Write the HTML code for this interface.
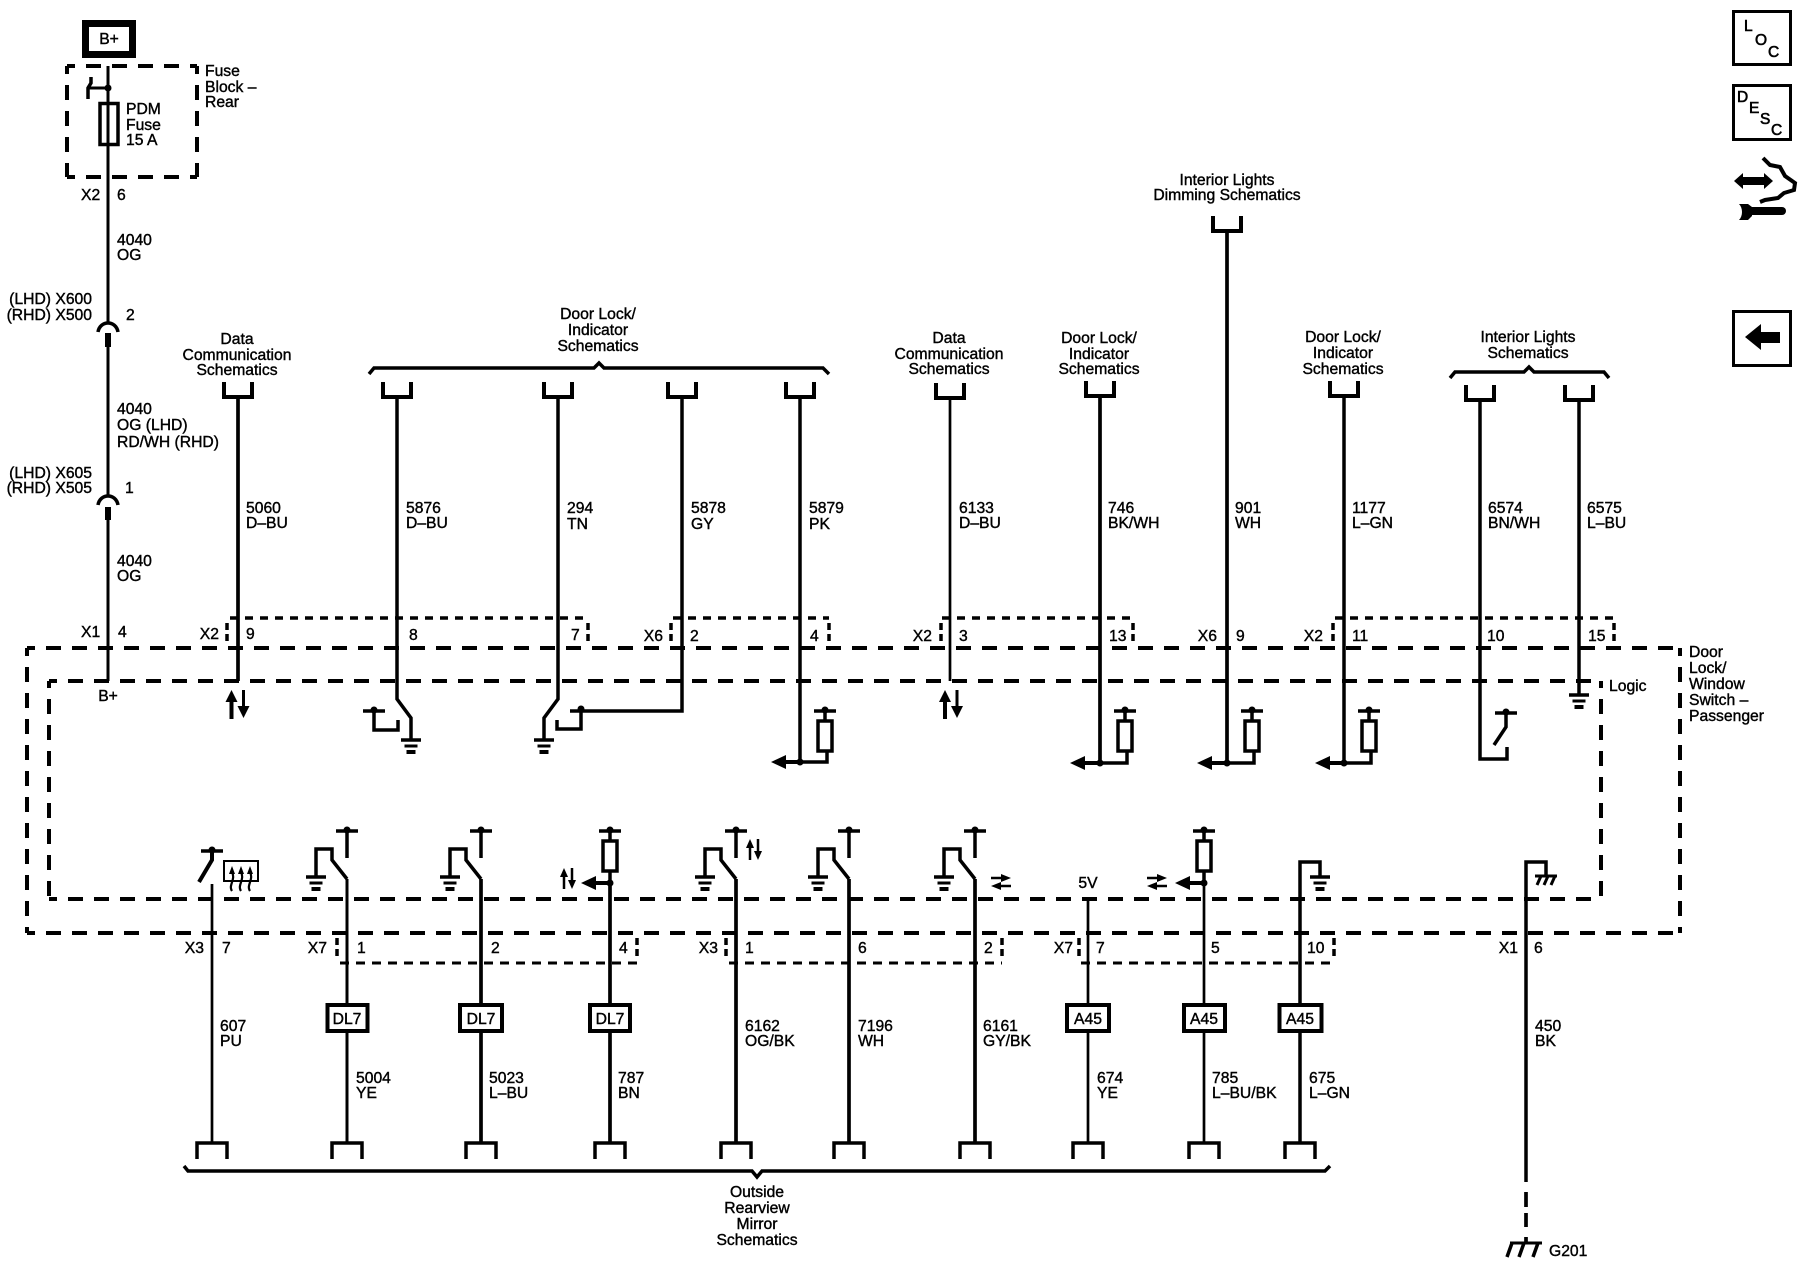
<!DOCTYPE html>
<html><head><meta charset="utf-8"><style>
html,body{margin:0;padding:0;background:#fff}
svg{display:block}
text{font-family:"Liberation Sans",Arial,sans-serif;font-size:15.7px;fill:#000;stroke:#000;stroke-width:.4}
.m{text-anchor:middle}.e{text-anchor:end}
.l{fill:none;stroke:#000;stroke-width:3.5}
.d{fill:none;stroke:#000;stroke-width:4;stroke-dasharray:15 11}
.s{fill:none;stroke:#000;stroke-width:3.5;stroke-dasharray:8 7}
.b{fill:none;stroke:#000;stroke-width:3;stroke-dasharray:9 7}
.v{fill:none;stroke:#000;stroke-width:3.5;stroke-dasharray:7 4}
.i{font-size:15.5px;stroke-width:.6}
</style></head><body>
<svg width="1800" height="1280" viewBox="0 0 1800 1280" xmlns="http://www.w3.org/2000/svg">
<defs>
<g id="gnd"><path d="M-10,0H10" stroke="#000" stroke-width="3.5"/><path d="M-6.500,6H6.500" stroke="#000" stroke-width="3"/><path d="M-4.500,12H4.500" stroke="#000" stroke-width="4"/></g>
<g id="tee"><path d="M-11,0H11" stroke="#000" stroke-width="3.500"/><circle cx="0" cy="-1" r="3.500" fill="#000"/></g>
<g id="sw"><path d="M0,879L-15,860V849H-31V876" class="l"/><use href="#gnd" x="-31" y="877"/><use href="#tee" y="831"/><path d="M0,831V858" class="l"/></g>
<g id="u"><path d="M-14,0V15H14V0" fill="none" stroke="#000" stroke-width="4"/></g>
<g id="n"><path d="M-15,16V0H15V16" fill="none" stroke="#000" stroke-width="3.500"/></g>
<g id="res"><use href="#tee" y="711"/><path d="M0,711V721" class="l"/><rect x="-7" y="721" width="14" height="30" fill="#fff" stroke="#000" stroke-width="3.500"/></g>
<g id="larr"><path d="M0,0L15,-7V7Z" fill="#000"/><path d="M14,0H30" stroke="#000" stroke-width="4"/></g>
<g id="ud"><path d="M0,29V8" stroke="#000" stroke-width="4"/><path d="M0,0L6,12H-6Z" fill="#000"/><path d="M12,0V20" stroke="#000" stroke-width="3"/><path d="M12,28L6,16H18Z" fill="#000"/></g>
<g id="uds"><path d="M0,21V6" stroke="#000" stroke-width="2.500"/><path d="M0,0L4,9H-4Z" fill="#000"/><path d="M8,0V14" stroke="#000" stroke-width="2.500"/><path d="M8,21L4,12H12Z" fill="#000"/></g>
<g id="lr"><path d="M0,0H14" stroke="#000" stroke-width="2.500"/><path d="M20,0L10,-4V4Z" fill="#000"/><path d="M6,8H20" stroke="#000" stroke-width="2.500"/><path d="M0,8L10,4V12Z" fill="#000"/></g>
</defs>

<!-- Fuse block -->
<rect x="85.500" y="23.500" width="47" height="31" fill="#fff" stroke="#000" stroke-width="7"/>
<text x="109" y="44" class="m">B+</text>
<path d="M67,66H197M67,177H197M67,66V177M197,66V177" class="d" stroke-dashoffset="7"/>
<path d="M108,66V323" stroke="#000" stroke-width="3"/>
<path d="M108,88H88" stroke="#000" stroke-width="3"/><path d="M91,77V83L88,88V99" class="l"/>
<circle cx="108" cy="88" r="3.500" fill="#000"/>
<rect x="100" y="103.500" width="18" height="41" fill="none" stroke="#000" stroke-width="3.500"/>
<text x="126" y="114">PDM</text><text x="126" y="130">Fuse</text><text x="126" y="145">15 A</text>
<text x="205" y="76">Fuse</text><text x="205" y="92">Block –</text><text x="205" y="107">Rear</text>
<text x="81" y="200">X2</text><text x="117" y="200">6</text>
<text x="117" y="245">4040</text><text x="117" y="260">OG</text>
<text x="92" y="304" class="e">(LHD) X600</text><text x="92" y="320" class="e">(RHD) X500</text><text x="126" y="320">2</text>
<path d="M98,332C100,320 116,320 118,332" class="l"/>
<path d="M108,333V347" stroke="#000" stroke-width="6"/><path d="M108,347V495" stroke="#000" stroke-width="3"/>
<text x="117" y="414">4040</text><text x="117" y="430">OG (LHD)</text><text x="117" y="447">RD/WH (RHD)</text>
<text x="92" y="478" class="e">(LHD) X605</text><text x="92" y="493" class="e">(RHD) X505</text><text x="125" y="493">1</text>
<path d="M98,505C100,493 116,493 118,505" class="l"/>
<path d="M108,507V520" stroke="#000" stroke-width="6"/><path d="M108,520V681" stroke="#000" stroke-width="3"/>
<text x="117" y="566">4040</text><text x="117" y="581">OG</text>

<!-- Top headings -->
<text x="237" y="344" class="m">Data</text><text x="237" y="360" class="m">Communication</text><text x="237" y="375" class="m">Schematics</text>
<text x="598" y="319" class="m">Door Lock/</text><text x="598" y="335" class="m">Indicator</text><text x="598" y="351" class="m">Schematics</text>
<text x="949" y="343" class="m">Data</text><text x="949" y="359" class="m">Communication</text><text x="949" y="374" class="m">Schematics</text>
<text x="1099" y="343" class="m">Door Lock/</text><text x="1099" y="359" class="m">Indicator</text><text x="1099" y="374" class="m">Schematics</text>
<text x="1227" y="185" class="m">Interior Lights</text><text x="1227" y="200" class="m">Dimming Schematics</text>
<text x="1343" y="342" class="m">Door Lock/</text><text x="1343" y="358" class="m">Indicator</text><text x="1343" y="374" class="m">Schematics</text>
<text x="1528" y="342" class="m">Interior Lights</text><text x="1528" y="358" class="m">Schematics</text>
<path d="M369,374L374,368H594L599,363L604,368H823L829,374" class="l"/>
<path d="M1450,378L1455,372H1524L1529,367L1534,372H1604L1609,378" class="l"/>
<use href="#u" x="238" y="382"/><use href="#u" x="397" y="382"/><use href="#u" x="558" y="382"/><use href="#u" x="682" y="382"/><use href="#u" x="800" y="382"/><use href="#u" x="950" y="383"/><use href="#u" x="1100" y="381"/><use href="#u" x="1227" y="216"/><use href="#u" x="1344" y="381"/><use href="#u" x="1480" y="385"/><use href="#u" x="1579" y="385"/>

<!-- Upper wires -->
<path d="M238,397V681" stroke="#000" stroke-width="3.700"/>
<path d="M397,397V699L411,718V740" class="l"/>
<path d="M558,397V699L544,718V740" class="l"/>
<path d="M682,397V711H570" class="l"/>
<path d="M800,397V762" stroke="#000" stroke-width="3.500"/>
<path d="M950,397V681" stroke="#000" stroke-width="2.700"/>
<path d="M1100,397V763" stroke="#000" stroke-width="3.700"/>
<path d="M1227,231V763" stroke="#000" stroke-width="3.700"/>
<path d="M1344,397V763" stroke="#000" stroke-width="3.500"/>
<path d="M1480,400V759H1507V747" class="l"/>
<path d="M1579,400V695" stroke="#000" stroke-width="3.500"/>
<text x="246" y="513">5060</text><text x="246" y="528">D–BU</text>
<text x="406" y="513">5876</text><text x="406" y="528">D–BU</text>
<text x="567" y="513">294</text><text x="567" y="529">TN</text>
<text x="691" y="513">5878</text><text x="691" y="529">GY</text>
<text x="809" y="513">5879</text><text x="809" y="529">PK</text>
<text x="959" y="513">6133</text><text x="959" y="528">D–BU</text>
<text x="1108" y="513">746</text><text x="1108" y="528">BK/WH</text>
<text x="1235" y="513">901</text><text x="1235" y="528">WH</text>
<text x="1352" y="513">1177</text><text x="1352" y="528">L–GN</text>
<text x="1488" y="513">6574</text><text x="1488" y="528">BN/WH</text>
<text x="1587" y="513">6575</text><text x="1587" y="528">L–BU</text>

<!-- Pin connector dashes top -->
<path d="M230,618H588" class="s"/><path d="M227,623V643M588,623V643" class="v"/>
<path d="M673,618H829" class="s"/><path d="M671,623V643M829,623V643" class="v"/>
<path d="M942,618H1133" class="s"/><path d="M941,623V643M1133,623V643" class="v"/>
<path d="M1335,618H1614" class="s"/><path d="M1333,623V643M1614,623V643" class="v"/>
<text x="81" y="637">X1</text><text x="118" y="637">4</text><text x="219" y="639" class="e">X2</text><text x="246" y="639">9</text><text x="409" y="640">8</text><text x="571" y="640">7</text><text x="663" y="641" class="e">X6</text><text x="690" y="641">2</text><text x="810" y="641">4</text><text x="932" y="641" class="e">X2</text><text x="959" y="641">3</text><text x="1109" y="641">13</text><text x="1217" y="641" class="e">X6</text><text x="1236" y="641">9</text><text x="1323" y="641" class="e">X2</text><text x="1352" y="641">11</text><text x="1487" y="641">10</text><text x="1588" y="641">15</text>

<!-- Enclosures -->
<path d="M27,648H1680" class="d" stroke-dashoffset="7"/>
<path d="M27,933H1680" class="d" stroke-dashoffset="7"/>
<path d="M27,648V933" class="d" stroke-dashoffset="7"/>
<path d="M1680,648V933" class="d" stroke-dashoffset="7"/>
<path d="M49,681H1601" class="d" stroke-dashoffset="7"/>
<path d="M49,899H1601" class="d" stroke-dashoffset="7"/>
<path d="M49,681V899" class="d" stroke-dashoffset="8"/>
<path d="M1601,681V899" class="d" stroke-dashoffset="8"/>
<text x="1609" y="691">Logic</text>
<text x="1689" y="657">Door</text><text x="1689" y="673">Lock/</text><text x="1689" y="689">Window</text><text x="1689" y="705">Switch –</text><text x="1689" y="721">Passenger</text>
<text x="108" y="701" class="m">B+</text>

<!-- Upper symbols -->
<use href="#ud" x="231.500" y="690"/><use href="#ud" x="945" y="690"/>
<use href="#tee" x="374" y="711"/><path d="M374,711V730H398V720" class="l"/><use href="#gnd" x="411" y="740"/>
<use href="#gnd" x="544" y="740"/><circle cx="581" cy="709" r="3.500" fill="#000"/><path d="M557,720V729H581V711" class="l"/>
<use href="#res" x="825"/><path d="M775,762H827V750" class="l"/><use href="#larr" x="771" y="762"/><circle cx="800" cy="762" r="3.500" fill="#000"/>
<use href="#res" x="1125"/><path d="M1085,763H1127V752" class="l"/><use href="#larr" x="1070" y="763"/><circle cx="1100" cy="763" r="3.500" fill="#000"/>
<use href="#res" x="1252"/><path d="M1212,763H1254V752" class="l"/><use href="#larr" x="1197" y="763"/><circle cx="1227" cy="763" r="3.500" fill="#000"/>
<use href="#res" x="1369"/><path d="M1329,763H1371V752" class="l"/><use href="#larr" x="1315" y="763"/><circle cx="1344" cy="763" r="3.500" fill="#000"/>
<use href="#tee" x="1506" y="713"/><path d="M1506,713V727L1494,745" class="l"/>
<use href="#gnd" x="1579" y="695"/>

<!-- Lower symbols -->
<use href="#tee" x="212" y="851"/><path d="M212,851V860L199,882" fill="none" stroke="#000" stroke-width="4"/>
<rect x="224" y="861" width="34" height="20" fill="#fff" stroke="#000" stroke-width="2"/>
<path d="M232,891C228,885 236,880 232,872M241,891C237,885 245,880 241,872M250,891C246,885 254,880 250,872" fill="none" stroke="#000" stroke-width="2.200"/>
<path d="M232,866L235,874H229ZM241,866L244,874H238ZM250,866L253,874H247Z" fill="#000"/>
<use href="#sw" x="347"/><use href="#sw" x="481"/><use href="#sw" x="736"/><use href="#sw" x="849"/><use href="#sw" x="975"/>
<g transform="translate(0,120)"><use href="#res" x="610"/></g>
<path d="M610,871V883" class="l"/><use href="#larr" x="581" y="883"/><circle cx="610" cy="883" r="3.500" fill="#000"/>
<use href="#uds" x="564" y="868"/><use href="#uds" x="750" y="839"/>
<use href="#lr" x="991" y="878"/><use href="#lr" x="1147" y="878"/>
<g transform="translate(0,120)"><use href="#res" x="1204"/></g>
<path d="M1204,871V883" class="l"/><use href="#larr" x="1175" y="883"/><circle cx="1204" cy="883" r="3.500" fill="#000"/>
<text x="1088" y="888" class="m">5V</text>
<path d="M1300,1143V862H1320V877" class="l"/><use href="#gnd" x="1320" y="877"/>
<path d="M1526,1182V862H1546V876" class="l"/><path d="M1535,876H1557" stroke="#000" stroke-width="3"/><path d="M1541,876L1537,885M1548,876L1544,885M1555,876L1551,885" stroke="#000" stroke-width="3"/>

<!-- Lower wires -->
<path d="M212,884V1143" stroke="#000" stroke-width="2.700"/>
<path d="M347,879V1143" stroke="#000" stroke-width="3"/>
<path d="M481,879V1143" stroke="#000" stroke-width="3.700"/>
<path d="M610,883V1143" stroke="#000" stroke-width="3.700"/>
<path d="M736,879V1143" stroke="#000" stroke-width="3.700"/>
<path d="M849,879V1143" stroke="#000" stroke-width="3.700"/>
<path d="M975,879V1143" stroke="#000" stroke-width="3.700"/>
<path d="M1088,898V1143" stroke="#000" stroke-width="2.700"/>
<path d="M1204,883V1143" stroke="#000" stroke-width="2.700"/>
<path d="M1526,1192V1207M1526,1213V1227M1526,1237V1243" stroke="#000" stroke-width="3.700"/>

<!-- Pin connector dashes bottom -->
<path d="M340,963H637" class="b"/><path d="M337,938V958M637,938V958" class="v"/>
<path d="M729,963H1002" class="b"/><path d="M726,938V958M1002,938V958" class="v"/>
<path d="M1081,963H1334" class="b"/><path d="M1079,938V958M1334,938V958" class="v"/>
<text x="204" y="953" class="e">X3</text><text x="222" y="953">7</text><text x="327" y="953" class="e">X7</text><text x="357" y="953">1</text><text x="491" y="953">2</text><text x="619" y="953">4</text><text x="718" y="953" class="e">X3</text><text x="745" y="953">1</text><text x="858" y="953">6</text><text x="984" y="953">2</text><text x="1073" y="953" class="e">X7</text><text x="1096" y="953">7</text><text x="1211" y="953">5</text><text x="1307" y="953">10</text><text x="1518" y="953" class="e">X1</text><text x="1534" y="953">6</text>

<!-- Boxes -->
<g fill="#fff" stroke="#000" stroke-width="4">
<rect x="327.500" y="1005" width="40" height="26"/><rect x="460" y="1005" width="42" height="26"/><rect x="590" y="1005" width="40" height="26"/><rect x="1067" y="1005" width="42" height="26"/><rect x="1184" y="1005" width="41" height="26"/><rect x="1279.500" y="1005" width="42" height="26"/>
</g>
<text x="347" y="1024" class="m">DL7</text><text x="481" y="1024" class="m">DL7</text><text x="610" y="1024" class="m">DL7</text><text x="1088" y="1024" class="m">A45</text><text x="1204" y="1024" class="m">A45</text><text x="1300" y="1024" class="m">A45</text>

<!-- Lower labels -->
<text x="220" y="1031">607</text><text x="220" y="1046">PU</text>
<text x="745" y="1031">6162</text><text x="745" y="1046">OG/BK</text>
<text x="858" y="1031">7196</text><text x="858" y="1046">WH</text>
<text x="983" y="1031">6161</text><text x="983" y="1046">GY/BK</text>
<text x="1535" y="1031">450</text><text x="1535" y="1046">BK</text>
<text x="356" y="1083">5004</text><text x="356" y="1098">YE</text>
<text x="489" y="1083">5023</text><text x="489" y="1098">L–BU</text>
<text x="618" y="1083">787</text><text x="618" y="1098">BN</text>
<text x="1097" y="1083">674</text><text x="1097" y="1098">YE</text>
<text x="1212" y="1083">785</text><text x="1212" y="1098">L–BU/BK</text>
<text x="1309" y="1083">675</text><text x="1309" y="1098">L–GN</text>

<!-- Bottom terminators -->
<use href="#n" x="212" y="1143"/><use href="#n" x="347" y="1143"/><use href="#n" x="481" y="1143"/><use href="#n" x="610" y="1143"/><use href="#n" x="736" y="1143"/><use href="#n" x="849" y="1143"/><use href="#n" x="975" y="1143"/><use href="#n" x="1088" y="1143"/><use href="#n" x="1204" y="1143"/><use href="#n" x="1300" y="1143"/>
<path d="M184,1166L188,1171H752L757,1177L762,1171H1325L1330,1166" class="l"/>
<text x="757" y="1197" class="m">Outside</text><text x="757" y="1213" class="m">Rearview</text><text x="757" y="1229" class="m">Mirror</text><text x="757" y="1245" class="m">Schematics</text>
<path d="M1510,1243H1542" stroke="#000" stroke-width="3"/><path d="M1512,1243L1507,1257M1524,1243L1519,1257M1538,1243L1533,1257" stroke="#000" stroke-width="3.500"/>
<text x="1549" y="1256">G201</text>

<!-- Right icons -->
<rect x="1733.500" y="11.500" width="57" height="53" fill="#fff" stroke="#000" stroke-width="3"/>
<text x="1744" y="31" class="i">L</text><text x="1755" y="45" class="i">O</text><text x="1768" y="57" class="i">C</text>
<rect x="1733.500" y="85.500" width="57" height="54" fill="#fff" stroke="#000" stroke-width="3"/>
<text x="1737" y="102" class="i">D</text><text x="1749" y="113" class="i">E</text><text x="1760" y="124" class="i">S</text><text x="1771" y="135" class="i">C</text>
<path d="M1734,181L1743,173V177H1764V173L1773,181L1764,189V185H1743V189Z" fill="#000"/>
<path d="M1763,158L1770,165L1780,167L1785,176L1795,183L1794,190L1784,193L1778,198L1765,200L1760,202" fill="none" stroke="#000" stroke-width="4"/>
<path d="M1750,211H1782" stroke="#000" stroke-width="8" stroke-linecap="round"/><path d="M1739,204H1748L1752,207V216L1748,220H1739C1743,216 1743,208 1739,204Z" fill="#000"/>
<rect x="1733.500" y="311.500" width="57" height="54" fill="#fff" stroke="#000" stroke-width="3"/>
<path d="M1745,337L1761,324V332H1780V343H1761V350Z" fill="#000"/>
</svg>
</body></html>
